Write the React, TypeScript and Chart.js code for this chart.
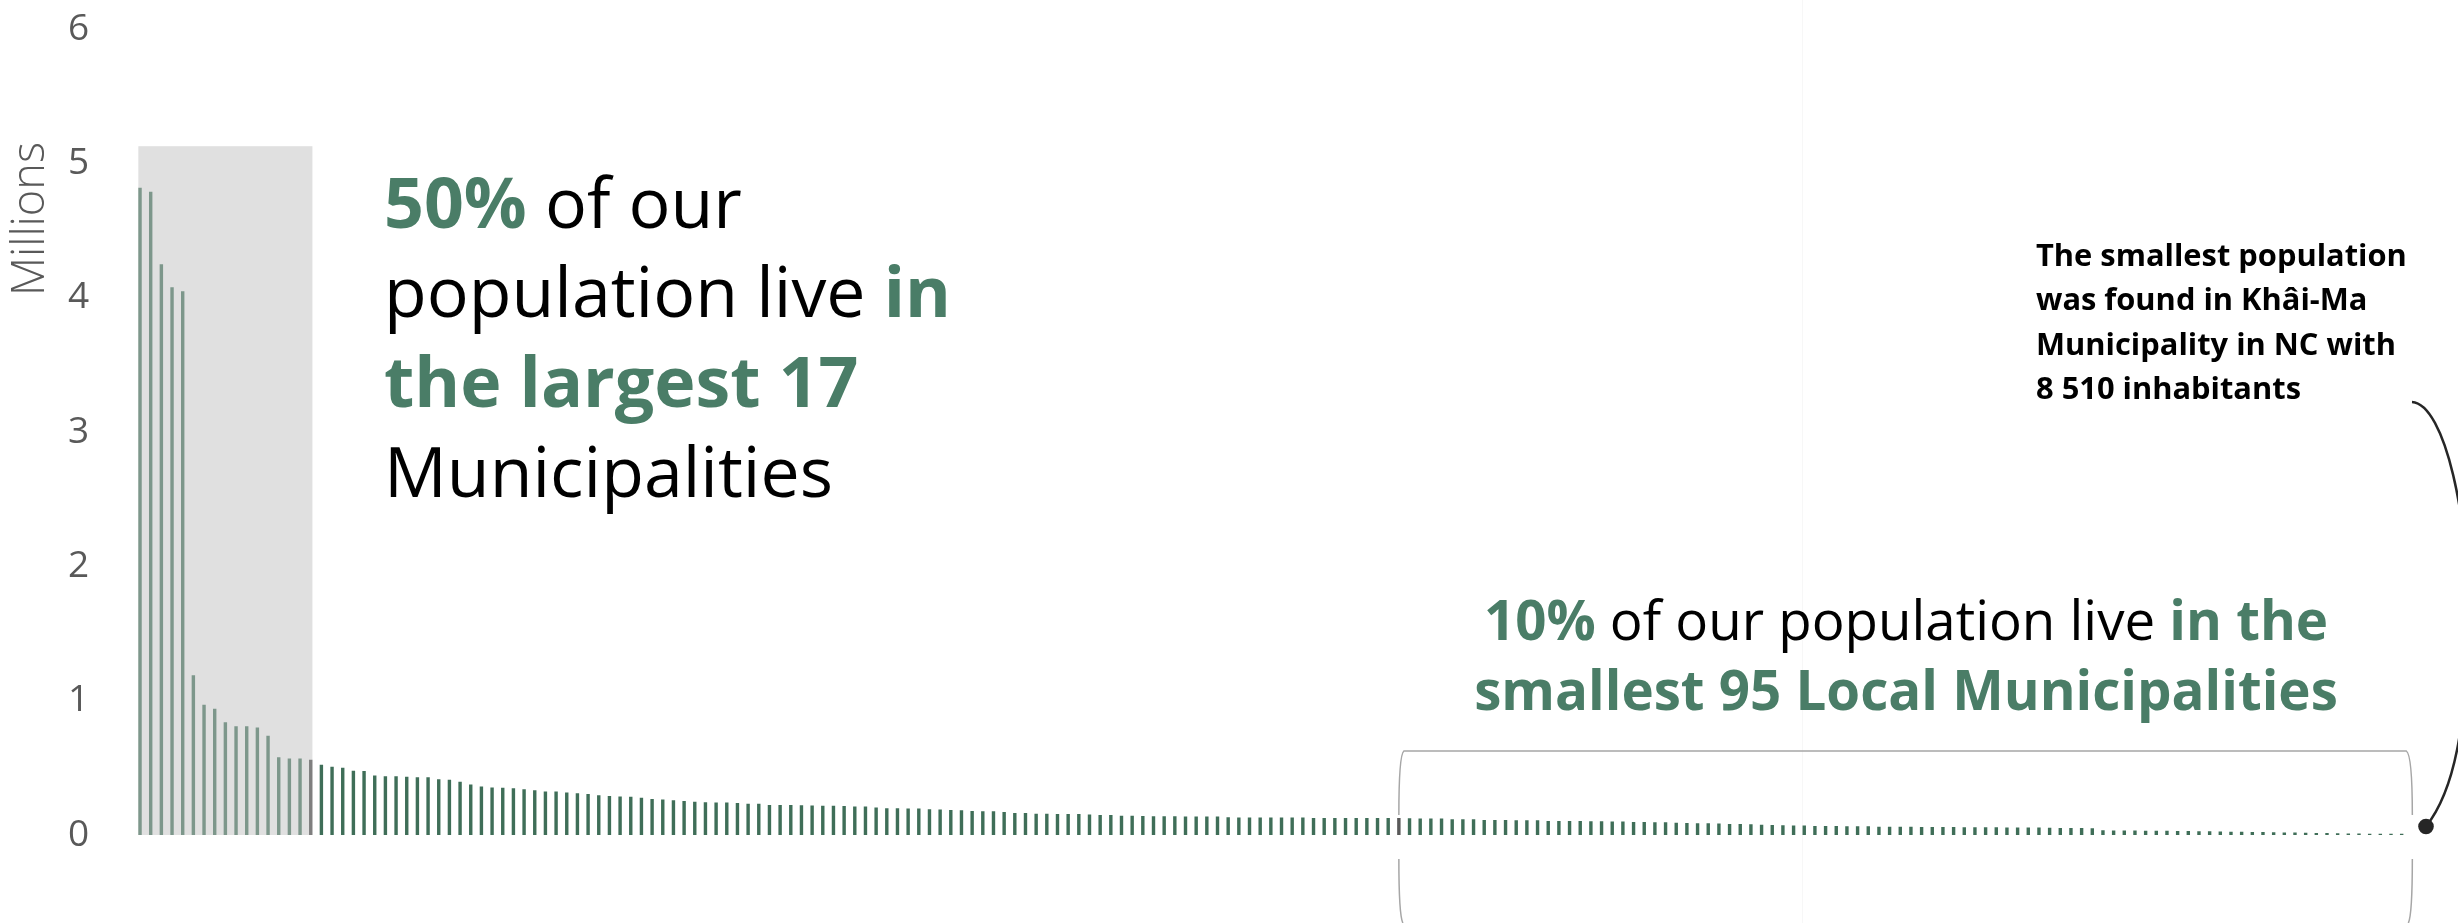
import React, { useEffect, useRef } from "react";
import { Chart, registerables } from "chart.js";

Chart.register(...registerables);

const W = 2458;
const H = 923;

// Population of each municipality (millions), sorted from largest to smallest
const largestMunicipalities: number[] = [
  4.82, 4.79, 4.25, 4.08, 4.05, 1.19, 0.97, 0.94, 0.84, 0.81, 0.81, 0.8, 0.74, 0.58, 0.57, 0.57, 0.56,
];
const middleMunicipalitiesA: number[] = [
  0.523, 0.508, 0.501, 0.478, 0.476, 0.443, 0.438, 0.438, 0.433, 0.431, 0.431, 0.416, 0.411, 0.396, 0.376, 0.361,
  0.354, 0.351, 0.349, 0.341, 0.334, 0.324, 0.324, 0.316, 0.311, 0.306, 0.296, 0.291, 0.286, 0.284, 0.277, 0.269,
  0.264, 0.259, 0.254, 0.247, 0.244, 0.242, 0.242, 0.239, 0.232, 0.232, 0.224, 0.224, 0.224, 0.222, 0.219, 0.217,
];
const middleMunicipalitiesB: number[] = [
  0.217, 0.216, 0.212, 0.212, 0.204, 0.199, 0.199, 0.197, 0.197, 0.192, 0.189, 0.187, 0.184, 0.179, 0.177, 0.177,
  0.172, 0.164, 0.164, 0.159, 0.159, 0.157, 0.157, 0.157, 0.152, 0.149, 0.149, 0.144, 0.144, 0.142, 0.14, 0.14,
  0.14, 0.137, 0.137, 0.137, 0.137, 0.132, 0.13, 0.13, 0.13, 0.13, 0.13, 0.13, 0.13, 0.127, 0.127, 0.127, 0.127, 0.127,
];
const smallMunicipalitiesA: number[] = [
  0.127, 0.127, 0.127, 0.127, 0.125, 0.122, 0.122, 0.122, 0.117, 0.117, 0.117, 0.112, 0.112, 0.112, 0.11, 0.11,
  0.11, 0.105, 0.105, 0.105, 0.105, 0.102, 0.102, 0.1, 0.1, 0.097, 0.097, 0.095, 0.095, 0.092, 0.09, 0.087,
  0.087, 0.085, 0.082, 0.082, 0.08, 0.077, 0.075, 0.072, 0.07, 0.07, 0.067, 0.067, 0.067, 0.065, 0.065, 0.065, 0.062, 0.062,
];
const smallMunicipalitiesB: number[] = [
  0.061, 0.061, 0.06, 0.06, 0.059, 0.059, 0.058, 0.058, 0.057, 0.057, 0.056, 0.056, 0.055, 0.055, 0.054, 0.053,
  0.053, 0.052, 0.051, 0.035, 0.034, 0.033, 0.033, 0.032, 0.031, 0.031, 0.03, 0.029, 0.028, 0.027, 0.026, 0.025,
  0.024, 0.023, 0.022, 0.02, 0.019, 0.018, 0.016, 0.015, 0.014, 0.013, 0.012, 0.011, 0.01, 0.0095, 0.009, 0.00851,
];

const population: number[] = [
  ...largestMunicipalities,
  ...middleMunicipalitiesA,
  ...middleMunicipalitiesB,
  ...smallMunicipalitiesA,
  ...smallMunicipalitiesB,
];
const rankLabels: string[] = population.map((_, i) => String(i + 1));
const yTickValues: number[] = [0, 1, 2, 3, 4, 5, 6];

const LARGEST_COUNT = 17;
const SMALLEST_COUNT = 95;
const LARGEST_BOX_TOP = 5.13;

const GREEN = "#3f6e58";
const GREEN_LIGHT = "#7d978b";
const MARK_GRAY_1 = "#7f7f7f";
const MARK_GRAY_2 = "#595959";
const TEXT_GREEN = "#4a7d67";
const TEXT_BLACK = "#000000";
const AXIS_GRAY = "#595959";
const FAMILY = '"Open Sans", "Noto Sans", sans-serif';

const firstSmallIdx = population.length - SMALLEST_COUNT;
const barColors = population.map((_, i) => {
  if (i === LARGEST_COUNT - 1) return MARK_GRAY_1;
  if (i < LARGEST_COUNT - 1) return GREEN_LIGHT;
  if (i === firstSmallIdx) return MARK_GRAY_2;
  return GREEN;
});

type Seg = { t: string; b?: boolean; c: string };

const block1: Seg[][] = [
  [{ t: "50%", b: true, c: TEXT_GREEN }, { t: " of our", c: TEXT_BLACK }],
  [{ t: "population live ", c: TEXT_BLACK }, { t: "in", b: true, c: TEXT_GREEN }],
  [{ t: "the largest 17", b: true, c: TEXT_GREEN }],
  [{ t: "Municipalities", c: TEXT_BLACK }],
];
const block2: Seg[][] = [
  [
    { t: "10%", b: true, c: TEXT_GREEN },
    { t: " of our population live ", c: TEXT_BLACK },
    { t: "in the", b: true, c: TEXT_GREEN },
  ],
  [{ t: "smallest 95 Local Municipalities", b: true, c: TEXT_GREEN }],
];
const block3: Seg[][] = [
  [{ t: "The smallest population", b: true, c: TEXT_BLACK }],
  [{ t: "was found in Khâi-Ma", b: true, c: TEXT_BLACK }],
  [{ t: "Municipality in NC with", b: true, c: TEXT_BLACK }],
  [{ t: "8 510 inhabitants", b: true, c: TEXT_BLACK }],
];

function fontOf(bold: boolean | undefined, size: number) {
  return `${bold ? "700" : "400"} ${size}px ${FAMILY}`;
}
function lineWidth(ctx: CanvasRenderingContext2D, segs: Seg[], size: number) {
  let w = 0;
  for (const s of segs) {
    ctx.font = fontOf(s.b, size);
    w += ctx.measureText(s.t).width;
  }
  return w;
}
function drawLine(ctx: CanvasRenderingContext2D, segs: Seg[], x: number, y: number, size: number) {
  let cx = x;
  for (const s of segs) {
    ctx.font = fontOf(s.b, size);
    ctx.fillStyle = s.c;
    ctx.fillText(s.t, cx, y);
    cx += ctx.measureText(s.t).width;
  }
}
function fitSize(ctx: CanvasRenderingContext2D, segs: Seg[], target: number) {
  return (100 * target) / lineWidth(ctx, segs, 100);
}

const annotationPlugin = {
  id: "populationAnnotations",
  beforeDatasetsDraw(chart: any) {
    const { ctx, scales } = chart;
    const y = scales.y;
    const meta = chart.getDatasetMeta(0);
    const b0 = meta.data[0];
    const bl = meta.data[LARGEST_COUNT - 1];
    const left = b0.x - b0.width / 2;
    const right = bl.x + bl.width / 2;
    const top = y.getPixelForValue(LARGEST_BOX_TOP);
    const base = y.getPixelForValue(0);
    ctx.save();
    ctx.fillStyle = "#f7f7f7";
    ctx.fillRect(1802, 0, 1, H);
    ctx.fillStyle = "#e0e0e0";
    ctx.fillRect(left, top, right - left, base - top);
    ctx.restore();
  },
  afterDatasetsDraw(chart: any) {
    const { ctx, scales } = chart;
    const x = scales.x;
    const y = scales.y;
    const base = y.getPixelForValue(0);
    ctx.save();
    ctx.textBaseline = "alphabetic";
    ctx.textAlign = "left";

    // Millions axis title
    ctx.save();
    ctx.translate(31, 219);
    ctx.rotate(-Math.PI / 2);
    ctx.font = `300 100px ${FAMILY}`;
    const mw = ctx.measureText("Millions").width;
    const ms = (100 * 154) / mw;
    ctx.font = `300 ${ms}px ${FAMILY}`;
    ctx.fillStyle = AXIS_GRAY;
    ctx.textAlign = "center";
    ctx.textBaseline = "middle";
    ctx.fillText("Millions", 0, 0);
    ctx.restore();

    // Block 1
    const s1 = fitSize(ctx, block1[1], 567);
    const b1y = [228, 317, 407, 497];
    block1.forEach((l, i) => drawLine(ctx, l, 384, b1y[i], s1));

    // Block 2 (centered)
    const s2 = fitSize(ctx, block2[1], 864);
    const b2y = [640, 710];
    block2.forEach((l, i) => {
      const w = lineWidth(ctx, l, s2);
      drawLine(ctx, l, 1906 - w / 2, b2y[i], s2);
    });

    // Block 3
    const s3 = fitSize(ctx, block3[0], 371);
    const b3y = [265.5, 310, 354.5, 399];
    block3.forEach((l, i) => drawLine(ctx, l, 2036, b3y[i], s3));

    // Bracket around the smallest municipalities
    const pitch = x.getPixelForValue(1) - x.getPixelForValue(0);
    const L = x.getPixelForValue(firstSmallIdx);
    const R = x.getPixelForValue(population.length - 1) + pitch;
    const top = base - 84;
    ctx.strokeStyle = "#a6a6a6";
    ctx.lineWidth = 1.5;
    ctx.beginPath();
    ctx.moveTo(L, base - 20);
    ctx.quadraticCurveTo(L, top + 4, L + 5, top);
    ctx.lineTo(R - 6, top);
    ctx.quadraticCurveTo(R, top + 4, R, base - 20);
    ctx.moveTo(L, base + 24);
    ctx.quadraticCurveTo(L, base + 80, L + 4, H);
    ctx.moveTo(R, base + 24);
    ctx.quadraticCurveTo(R, base + 80, R - 4, H);
    ctx.stroke();

    // Leader line and dot
    ctx.strokeStyle = "#262626";
    ctx.lineWidth = 2.5;
    ctx.beginPath();
    ctx.moveTo(2412, 402);
    ctx.bezierCurveTo(2445, 404, 2470, 520, 2468, 625);
    ctx.bezierCurveTo(2466, 725, 2455, 790, 2426, 826.5);
    ctx.stroke();
    ctx.fillStyle = "#262626";
    ctx.beginPath();
    ctx.arc(2426, 826.5, 7.8, 0, Math.PI * 2);
    ctx.fill();
    ctx.restore();
  },
};

export default function App() {
  const ref = useRef<HTMLCanvasElement | null>(null);
  useEffect(() => {
    if (!ref.current) return;
    const chart = new Chart(ref.current, {
      type: "bar",
      data: {
        labels: rankLabels,
        datasets: [
          {
            data: population,
            backgroundColor: barColors,
            borderWidth: 0,
            barPercentage: 0.32,
            categoryPercentage: 1,
          },
        ],
      },
      options: {
        responsive: false,
        animation: false,
        devicePixelRatio: 1,
        layout: { padding: { left: 68, top: 29.4, right: 51, bottom: 88 } },
        plugins: { legend: { display: false }, tooltip: { enabled: false } },
        scales: {
          x: { display: false },
          y: {
            min: 0,
            max: 6,
            afterBuildTicks: (scale: any) => {
              scale.ticks = yTickValues.map((v) => ({ value: v }));
            },
            afterFit: (scale: any) => {
              scale.width = 66.7;
            },
            ticks: {
              color: AXIS_GRAY,
              font: { family: FAMILY, size: 37 },
              padding: 0,
              crossAlign: "far",
            },
            grid: { display: false, drawTicks: false },
            border: { display: false },
          },
        },
      },
      plugins: [annotationPlugin],
    });
    return () => chart.destroy();
  }, []);
  return (
    <div style={{ position: "absolute", left: 0, top: 0, width: W, height: H, background: "#ffffff" }}>
      <canvas ref={ref} width={W} height={H} style={{ display: "block" }} />
    </div>
  );
}
